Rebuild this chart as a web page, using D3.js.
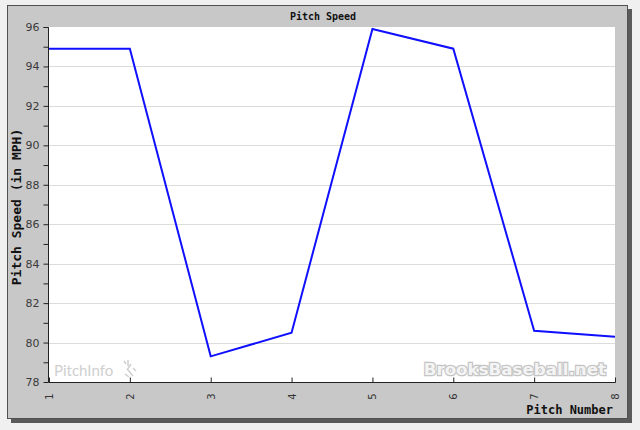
<!DOCTYPE html>
<html><head><meta charset="utf-8">
<script src="https://cdn.jsdelivr.net/npm/d3@7"></script>
<style>body{margin:0;background:#f0f0f0;}svg{display:block;}</style>
</head><body>
<script>
const pitchNumbers = [1,2,3,4,5,6,7,8];
const pitchSpeeds = [94.9,94.9,79.3,80.5,95.9,94.9,80.6,80.3];
const yTickValues = [78,80,82,84,86,88,90,92,94,96];
const chartTitle = "Pitch Speed";
const yTitle = "Pitch Speed (in MPH)";
const xTitle = "Pitch Number";

const W = 640, H = 430;
const svg = d3.select("body").append("svg").attr("width", W).attr("height", H);
svg.append("rect").attr("width", W).attr("height", H).attr("fill", "#f0f0f0");
// shadow
svg.append("rect").attr("x", 11).attr("y", 9).attr("width", 621).attr("height", 414).attr("fill", "#5a5a5a");
// panel
svg.append("rect").attr("x", 7.5).attr("y", 5.5).attr("width", 620).attr("height", 413).attr("fill", "#c8c8c8").attr("stroke", "#505050").attr("stroke-width", 1);

const m = {l: 49, r: 615, t: 27, b: 382};
const x = d3.scaleLinear().domain([1, 8]).range([m.l, m.r]);
const y = d3.scaleLinear().domain([78, 96]).range([m.b, m.t]);

svg.append("rect").attr("x", m.l).attr("y", m.t).attr("width", m.r - m.l).attr("height", m.b - m.t).attr("fill", "#ffffff");

// grid
svg.append("g").selectAll("line").data(yTickValues.filter(v => v > 78 && v < 96)).join("line")
  .attr("x1", m.l).attr("x2", m.r)
  .attr("y1", d => Math.round(y(d)) + 0.5).attr("y2", d => Math.round(y(d)) + 0.5)
  .attr("stroke", "#dcdcdc").attr("stroke-width", 1);

// watermarks
svg.append("text").attr("x", 54).attr("y", 376).text("PitchInfo")
  .attr("font-family", "Lato, 'Open Sans', sans-serif").attr("font-size", 15).attr("fill", "#cfcfcf");
const ic = svg.append("g").attr("stroke", "#cfcfcf").attr("stroke-width", 1.5);
[[124,361,126,364],[128,360,128,366],[131,364,127,370],[128,370,133,376],[125,374,129,377],[133,368,136,371]].forEach(s=>{
  ic.append("line").attr("x1",s[0]).attr("y1",s[1]).attr("x2",s[2]).attr("y2",s[3]);
});
svg.append("text").attr("x", 606).attr("y", 375).attr("text-anchor", "end").text("BrooksBaseball.net")
  .attr("font-family", "'DejaVu Sans', Verdana, sans-serif").attr("font-weight", "bold").attr("font-size", 16.7)
  .attr("fill", "#f4f4f4").attr("stroke", "#c4c4c4").attr("stroke-width", 2.4).attr("paint-order", "stroke");

// line
const line = d3.line().x((d, i) => x(pitchNumbers[i])).y(d => y(d));
svg.append("path").datum(pitchSpeeds).attr("d", line)
  .attr("fill", "none").attr("stroke", "#1010ff").attr("stroke-width", 2).attr("stroke-linejoin", "miter");

// y axis
const yAxis = d3.axisLeft(y).tickValues(d3.range(78, 97, 1)).tickSize(5)
  .tickFormat(d => d % 2 === 0 ? d : "");
const gy = svg.append("g").attr("transform", `translate(${m.l - 0.5},0)`).call(yAxis);
gy.select(".domain").attr("stroke", "#222").attr("d", `M-5,${m.t + 0.5}H0V${m.b + 0.5}`);
gy.selectAll(".tick line").attr("stroke", "#222");
gy.selectAll(".tick text").attr("x", -9).attr("font-family", "'DejaVu Sans', Verdana, sans-serif").attr("font-size", 11).attr("fill", "#3a3a3a");

// x axis
const xAxis = d3.axisBottom(x).tickValues(pitchNumbers).tickSize(-5).tickFormat(d3.format("d"));
const gx = svg.append("g").attr("transform", `translate(0,${m.b + 0.5})`).call(xAxis);
gx.select(".domain").attr("stroke", "#222").attr("d", `M${m.l},0H${m.r + 0.5}`);
gx.selectAll(".tick line").attr("stroke", "#222");
gx.selectAll(".tick text").attr("transform", "translate(0,14) rotate(-90)").attr("y", 0).attr("dy", "0.35em")
  .attr("x", 0).attr("text-anchor", "middle")
  .attr("font-family", "'DejaVu Sans', Verdana, sans-serif").attr("font-size", 10).attr("fill", "#333");

// titles
svg.append("text").attr("x", 323).attr("y", 20).attr("text-anchor", "middle").text(chartTitle)
  .attr("font-family", "'DejaVu Sans Mono', monospace").attr("font-weight", "bold").attr("font-size", 10).attr("fill", "#111");
svg.append("text").attr("transform", "translate(20.5,207) rotate(-90)").attr("text-anchor", "middle").text(yTitle)
  .attr("font-family", "'DejaVu Sans Mono', monospace").attr("font-weight", "bold").attr("font-size", 13).attr("fill", "#111");
svg.append("text").attr("x", 613).attr("y", 414).attr("text-anchor", "end").text(xTitle)
  .attr("font-family", "'DejaVu Sans Mono', monospace").attr("font-weight", "bold").attr("font-size", 12).attr("fill", "#111");
</script>
</body></html>
